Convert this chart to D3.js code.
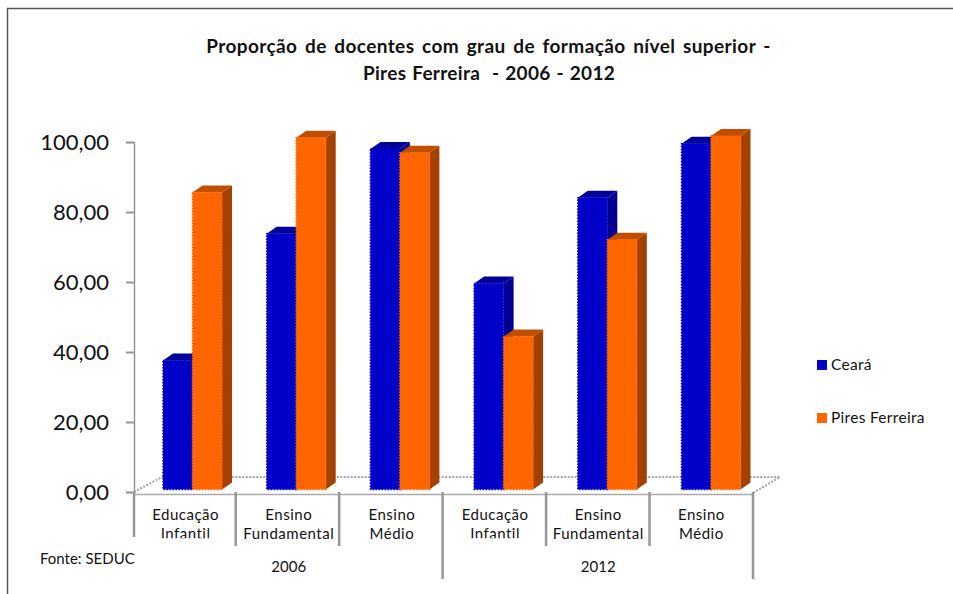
<!DOCTYPE html>
<html>
<head>
<meta charset="utf-8">
<script src="https://cdn.jsdelivr.net/npm/d3@7"></script>
<style>
  body { margin: 0; background: #fff; }
  text { font-family: Lato, "Open Sans", sans-serif; fill: #111; }
</style>
</head>
<body>
<div id="chart"></div>
<script>
var w = 953;
var h = 594;

// data
var categories = ["Educação Infantil", "Ensino Fundamental", "Ensino Médio",
                  "Educação Infantil", "Ensino Fundamental", "Ensino Médio"];
var years = ["2006", "2012"];
var seriesNames = ["Ceará", "Pires Ferreira"];
var ceara = [36.9, 73.1, 97.4, 58.9, 83.4, 98.9];
var piresFerreira = [84.9, 100.6, 96.3, 43.7, 71.4, 101.1];
var yTicks = [0, 20, 40, 60, 80, 100];

var front = { "Ceará": "#0000c8", "Pires Ferreira": "#ff6600" };
var side = { "Ceará": "#000090", "Pires Ferreira": "#a34200" };
var top3d = { "Ceará": "#000098", "Pires Ferreira": "#c04e00" };
var gray = "#969696";
var depthX = 10, depthY = 7;

var svg = d3.select("#chart").append("svg")
    .attr("width", w)
    .attr("height", h)
    .style("display", "block");

svg.append("clipPath").attr("id", "labelClip")
    .append("rect").attr("x", 0).attr("y", 0).attr("width", w).attr("height", 538.3);

// frame, runs off the right and bottom of the picture
svg.append("rect")
    .attr("x", 7.5).attr("y", 8.5)
    .attr("width", 960).attr("height", 600)
    .attr("fill", "none").attr("stroke", "#555").attr("stroke-width", 1.5);

// title
svg.append("text").attr("x", 488.5).attr("y", 53).attr("text-anchor", "middle")
    .style("font-size", "19px").style("font-weight", "bold")
    .style("letter-spacing", "0.4px").style("word-spacing", "2.6px")
    .text("Proporção de docentes com grau de formação nível superior -");
svg.append("text").attr("x", 489).attr("y", 80).attr("text-anchor", "middle")
    .style("font-size", "19px").style("font-weight", "bold")
    .style("letter-spacing", "0.3px").style("word-spacing", "1px")
    .style("white-space", "pre")
    .text("Pires Ferreira  - 2006 - 2012");

var xScale = d3.scaleBand().domain(d3.range(categories.length)).range([134, 753]);
var xBars = d3.scaleBand().domain(d3.range(categories.length)).range([134, 756.2]);
var sepScale = d3.scaleLinear().domain([1, categories.length]).range([235.7, 753]);
var serieScale = d3.scaleBand().domain(seriesNames).range([29, 88]);
var yAxisScale = d3.scaleLinear().domain([0, 100]).range([492, 142]);
var yBar = d3.scaleLinear().domain([0, 100]).range([489.4, 139.8]);

// floor
svg.append("path")
    .attr("d", "M134,492 L162,477 H780 L753,493")
    .attr("fill", "none").attr("stroke", "#a5a5a5").attr("stroke-width", 2)
    .attr("stroke-dasharray", "2 1.5");

// y axis
var yAxis = d3.axisLeft(yAxisScale)
    .tickValues(yTicks)
    .tickSize(8)
    .tickPadding(17)
    .tickFormat(function (d) { return d3.format(".2f")(d).replace(".", ","); });
var yG = svg.append("g").attr("transform", "translate(134,0)").call(yAxis);
yG.select("path").attr("stroke", gray).attr("stroke-width", 1.5);
yG.selectAll("line").attr("stroke", gray).attr("stroke-width", 2);
yG.selectAll("text").style("font-size", "22px").attr("fill", "#111");

// x axis base line
svg.append("line")
    .attr("x1", 134).attr("x2", 753).attr("y1", 494.5).attr("y2", 494.5)
    .attr("stroke", "#aaa").attr("stroke-width", 1.5);

// category separators, the ones between the years are longer
var seps = d3.range(categories.length + 1);
svg.selectAll(".sep").data(seps).enter().append("line")
    .attr("class", "sep")
    .attr("x1", function (d) { return d == 0 ? 134 : sepScale(d); })
    .attr("x2", function (d) { return d == 0 ? 134 : sepScale(d); })
    .attr("y1", 492)
    .attr("y2", function (d) {
        if (d == 0) return 537;
        if (d == 3 || d == 6) return 579;
        return 546;
    })
    .attr("stroke", gray).attr("stroke-width", 2.5);

// category labels
svg.selectAll(".cat").data(categories).enter().append("g")
    .attr("clip-path", function (d, i) { return i % 3 == 0 ? "url(#labelClip)" : null; })
    .append("text")
    .attr("class", "cat")
    .attr("text-anchor", "middle")
    .style("font-size", "15px")
    .style("letter-spacing", "0.5px")
    .attr("transform", function (d, i) {
        return "translate(" + (xScale(i) + xScale.bandwidth() / 2) + ",0)";
    })
    .each(function (d) {
        var parts = d.split(" ");
        d3.select(this).selectAll("tspan").data(parts).enter().append("tspan")
            .attr("x", 0)
            .attr("y", function (p, i) { return 520 + i * 19; })
            .text(function (p) { return p; });
    });

// year labels
svg.selectAll(".year").data(years).enter().append("text")
    .attr("class", "year")
    .attr("text-anchor", "middle")
    .attr("x", function (d, i) { return 134 + (i * 3 + 1.5) * xScale.step(); })
    .attr("y", 572)
    .style("font-size", "15px")
    .text(function (d) { return d; });

// bars: one group per category, drawn left to right
var rows = categories.map(function (c, i) {
    return [
        { serie: seriesNames[0], value: ceara[i], i: i },
        { serie: seriesNames[1], value: piresFerreira[i], i: i }
    ];
});
var groups = svg.selectAll(".bars").data(rows).enter().append("g")
    .attr("class", "bars")
    .attr("transform", function (d, i) { return "translate(" + xBars(i) + ",0)"; });

var bars = groups.selectAll("g").data(function (d) { return d; }).enter().append("g");

// side and top first, front goes over
bars.append("path")
    .attr("fill", function (d) { return side[d.serie]; })
    .attr("d", function (d) {
        var x = serieScale(d.serie) + serieScale.bandwidth(), t = yBar(d.value), b = yBar(0);
        return "M" + x + "," + t + "l" + depthX + "," + (-depthY) + "V" + (b - depthY) + "l" + (-depthX) + "," + depthY + "Z";
    });
bars.append("path")
    .attr("fill", function (d) { return top3d[d.serie]; })
    .attr("d", function (d) {
        var x = serieScale(d.serie), t = yBar(d.value), bw = serieScale.bandwidth();
        return "M" + x + "," + t + "l" + depthX + "," + (-depthY) + "h" + bw + "l" + (-depthX) + "," + depthY + "Z";
    });
bars.append("rect")
    .attr("x", function (d) { return serieScale(d.serie); })
    .attr("y", function (d) { return yBar(d.value); })
    .attr("width", serieScale.bandwidth())
    .attr("height", function (d) { return yBar(0) - yBar(d.value); })
    .attr("fill", function (d) { return front[d.serie]; })
    .attr("stroke", function (d) { return front[d.serie]; })
    .attr("stroke-width", 1.5)
    .attr("stroke-dasharray", "1.5 1.5");

// legend
var legend = svg.selectAll(".legend").data(seriesNames).enter().append("g")
    .attr("class", "legend")
    .attr("transform", function (d, i) { return "translate(817," + (360 + i * 53) + ")"; });
legend.append("rect")
    .attr("width", 10).attr("height", 10)
    .attr("fill", function (d) { return front[d]; });
legend.append("text")
    .attr("x", 14).attr("y", 10)
    .style("font-size", "15.5px")
    .style("letter-spacing", "0.3px")
    .text(function (d) { return d; });

// source
svg.append("text").attr("x", 40).attr("y", 564)
    .style("font-size", "15px")
    .text("Fonte: SEDUC");
</script>
</body>
</html>
